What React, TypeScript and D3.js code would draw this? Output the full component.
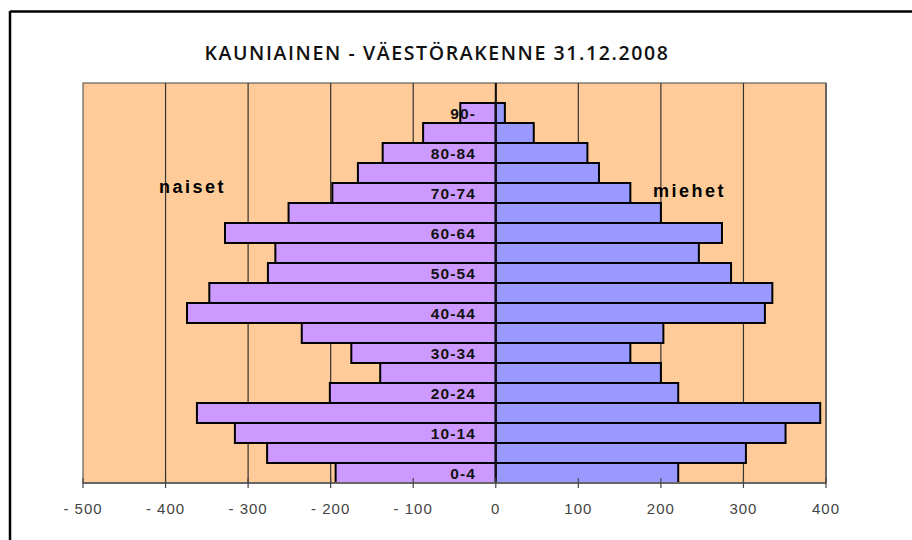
import React, { useEffect, useRef } from "react";
import * as d3 from "d3";

// age groups, bottom to top
const ageGroups = [
  "0-4", "5-9", "10-14", "15-19", "20-24", "25-29", "30-34", "35-39", "40-44",
  "45-49", "50-54", "55-59", "60-64", "65-69", "70-74", "75-79", "80-84", "85-89", "90-",
];
const naiset = [194, 277, 316, 362, 201, 140, 175, 235, 374, 347, 276, 267, 328, 251, 198, 167, 137, 88, 43];
const miehet = [221, 303, 351, 393, 221, 200, 163, 203, 326, 335, 285, 246, 274, 200, 163, 125, 111, 46, 11];
const xTicks = [-500, -400, -300, -200, -100, 0, 100, 200, 300, 400];
const title = "KAUNIAINEN - VÄESTÖRAKENNE 31.12.2008";

const width = 912;
const height = 540;

const App = () => {
  const svgRef = useRef<SVGSVGElement | null>(null);

  useEffect(() => {
    const svg = d3.select(svgRef.current);
    svg.selectAll("*").remove();

    const left = 83;
    const right = 826;
    const top = 83;
    const bottom = 483;

    const x = d3.scaleLinear().domain([-500, 400]).range([left, right]);
    // one empty slot above the oldest group
    const y = d3
      .scaleBand()
      .domain(["", ...ageGroups.slice().reverse()])
      .range([top, bottom])
      .padding(0);

    const data = ageGroups.map((g, i) => ({ g, f: naiset[i], m: miehet[i] }));

    // outer frame
    svg.append("line").attr("x1", 10).attr("x2", 10).attr("y1", 11).attr("y2", height)
      .attr("stroke", "#000").attr("stroke-width", 2.5);
    svg.append("line").attr("x1", 10).attr("x2", width).attr("y1", 11.5).attr("y2", 11.5)
      .attr("stroke", "#000").attr("stroke-width", 2.5);

    // title
    svg.append("text")
      .attr("x", 437)
      .attr("y", 60)
      .attr("text-anchor", "middle")
      .style("font-family", "'Open Sans', sans-serif")
      .style("font-weight", 600)
      .style("font-size", "19.5px")
      .style("letter-spacing", "1.6px")
      .style("fill", "#111")
      .text(title);

    // plot background
    svg.append("rect")
      .attr("x", left).attr("y", top)
      .attr("width", right - left).attr("height", bottom - top)
      .attr("fill", "#FFCC99")
      .attr("stroke", "#444").attr("stroke-width", 1);

    // gridlines
    svg.append("g")
      .selectAll("line")
      .data(xTicks.filter(d => d > -500 && d < 400))
      .enter()
      .append("line")
      .attr("x1", d => x(d)).attr("x2", d => x(d))
      .attr("y1", top).attr("y2", bottom)
      .attr("stroke", d => (d === 0 ? "#111" : "#333"))
      .attr("stroke-width", d => (d === 0 ? 1.5 : 1.2));

    // women (left)
    svg.append("g")
      .selectAll("rect")
      .data(data)
      .enter()
      .append("rect")
      .attr("x", d => x(-d.f))
      .attr("y", d => y(d.g)!)
      .attr("width", d => x(0) - x(-d.f))
      .attr("height", y.bandwidth())
      .attr("fill", "#CC99FF")
      .attr("stroke", "#000")
      .attr("stroke-width", 2);

    // men (right)
    svg.append("g")
      .selectAll("rect")
      .data(data)
      .enter()
      .append("rect")
      .attr("x", x(0))
      .attr("y", d => y(d.g)!)
      .attr("width", d => x(d.m) - x(0))
      .attr("height", y.bandwidth())
      .attr("fill", "#9999FF")
      .attr("stroke", "#000")
      .attr("stroke-width", 2);

    // zero line on top
    svg.append("line")
      .attr("x1", x(0)).attr("x2", x(0)).attr("y1", top).attr("y2", bottom)
      .attr("stroke", "#111").attr("stroke-width", 2);

    // category labels, every other group
    svg.append("g")
      .selectAll("text")
      .data(ageGroups.filter((_, i) => i % 2 === 0))
      .enter()
      .append("text")
      .attr("x", 476)
      .attr("y", d => y(d)! + y.bandwidth() / 2 + 5.5)
      .attr("text-anchor", "end")
      .style("font-family", "'Liberation Sans', Arial, sans-serif")
      .style("font-weight", "bold")
      .style("font-size", "15.5px")
      .style("letter-spacing", "1.1px")
      .style("fill", "#111")
      .text(d => d);

    // x axis line
    svg.append("line")
      .attr("x1", left).attr("x2", right).attr("y1", bottom).attr("y2", bottom)
      .attr("stroke", "#666").attr("stroke-width", 2);
    svg.append("line")
      .attr("x1", right).attr("x2", right).attr("y1", top).attr("y2", bottom)
      .attr("stroke", "#666").attr("stroke-width", 2);

    // ticks
    svg.append("g")
      .selectAll("line")
      .data(xTicks)
      .enter()
      .append("line")
      .attr("x1", d => x(d)).attr("x2", d => x(d))
      .attr("y1", bottom - 5).attr("y2", bottom + 5)
      .attr("stroke", "#444").attr("stroke-width", 1.2);

    svg.append("g")
      .selectAll("text")
      .data(xTicks)
      .enter()
      .append("text")
      .attr("x", d => x(d))
      .attr("y", 514)
      .attr("text-anchor", "middle")
      .style("font-family", "'Liberation Sans', Arial, sans-serif")
      .style("font-size", "15px")
      .style("letter-spacing", "1px")
      .style("fill", "#444")
      .text(d => (d < 0 ? `- ${Math.abs(d)}` : `${d}`));

    // side labels
    svg.append("text")
      .attr("x", 159).attr("y", 193)
      .style("font-family", "'Liberation Sans', Arial, sans-serif")
      .style("font-weight", "bold")
      .style("font-size", "18px")
      .style("letter-spacing", "2.5px")
      .style("fill", "#000")
      .text("naiset");
    svg.append("text")
      .attr("x", 653).attr("y", 197)
      .style("font-family", "'Liberation Sans', Arial, sans-serif")
      .style("font-weight", "bold")
      .style("font-size", "18px")
      .style("letter-spacing", "2.5px")
      .style("fill", "#000")
      .text("miehet");
  }, []);

  return (
    <svg
      ref={svgRef}
      width={width}
      height={height}
      style={{ position: "absolute", left: 0, top: 0, background: "#fff" }}
    ></svg>
  );
};

export default App;
